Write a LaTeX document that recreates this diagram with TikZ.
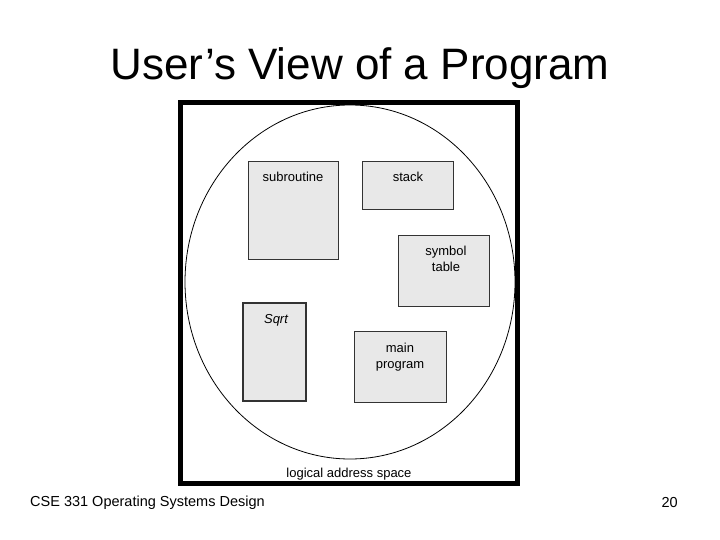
\documentclass[tikz,border=0pt]{standalone}
\usepackage{fontspec}
\setmainfont{Liberation Sans}
\begin{document}
\begin{tikzpicture}[x=1pt,y=-1pt,
  seg/.style={draw=black!80,fill=black!9,line width=0.9pt},
  lbl/.style={font=\fontsize{13}{16}\selectfont,align=center,anchor=north}]
\useasboundingbox[fill=white] (0,0) rectangle (720,540);
\node[font=\fontsize{44}{50}\selectfont] (title) at (360,68) {User’s View of a Program};
\draw[line width=5pt] (180.5,102.5) rectangle (517.5,483.5);
\draw[line width=0.8pt] (350,282) ellipse [x radius=165, y radius=177];
\draw[seg] (248,161) rectangle (338,259);
\draw[seg] (362,161) rectangle (453,209);
\draw[seg] (398,235) rectangle (489,306);
\draw[seg,line width=1.6pt] (243,303) rectangle (306,401);
\draw[seg] (354,331) rectangle (446,402);
\node[lbl] (t1) at (293,169) {subroutine};
\node[lbl] (t2) at (408,169) {stack};
\node[lbl] (t3) at (446,243) {symbol\\table};
\node[lbl] (t4) at (276,311) {\itshape Sqrt};
\node[lbl] (t5) at (400,340) {main\\program};
\node[font=\fontsize{13}{16}\selectfont] (las) at (349,474) {logical address space};
\node[font=\fontsize{14.5}{17}\selectfont,anchor=west,inner sep=0pt] (foot) at (30,503) {CSE 331 Operating Systems Design};
\node[font=\fontsize{14.5}{17}\selectfont,anchor=east,inner sep=0pt] (pg) at (678,503) {20};
\end{tikzpicture}
\end{document}
